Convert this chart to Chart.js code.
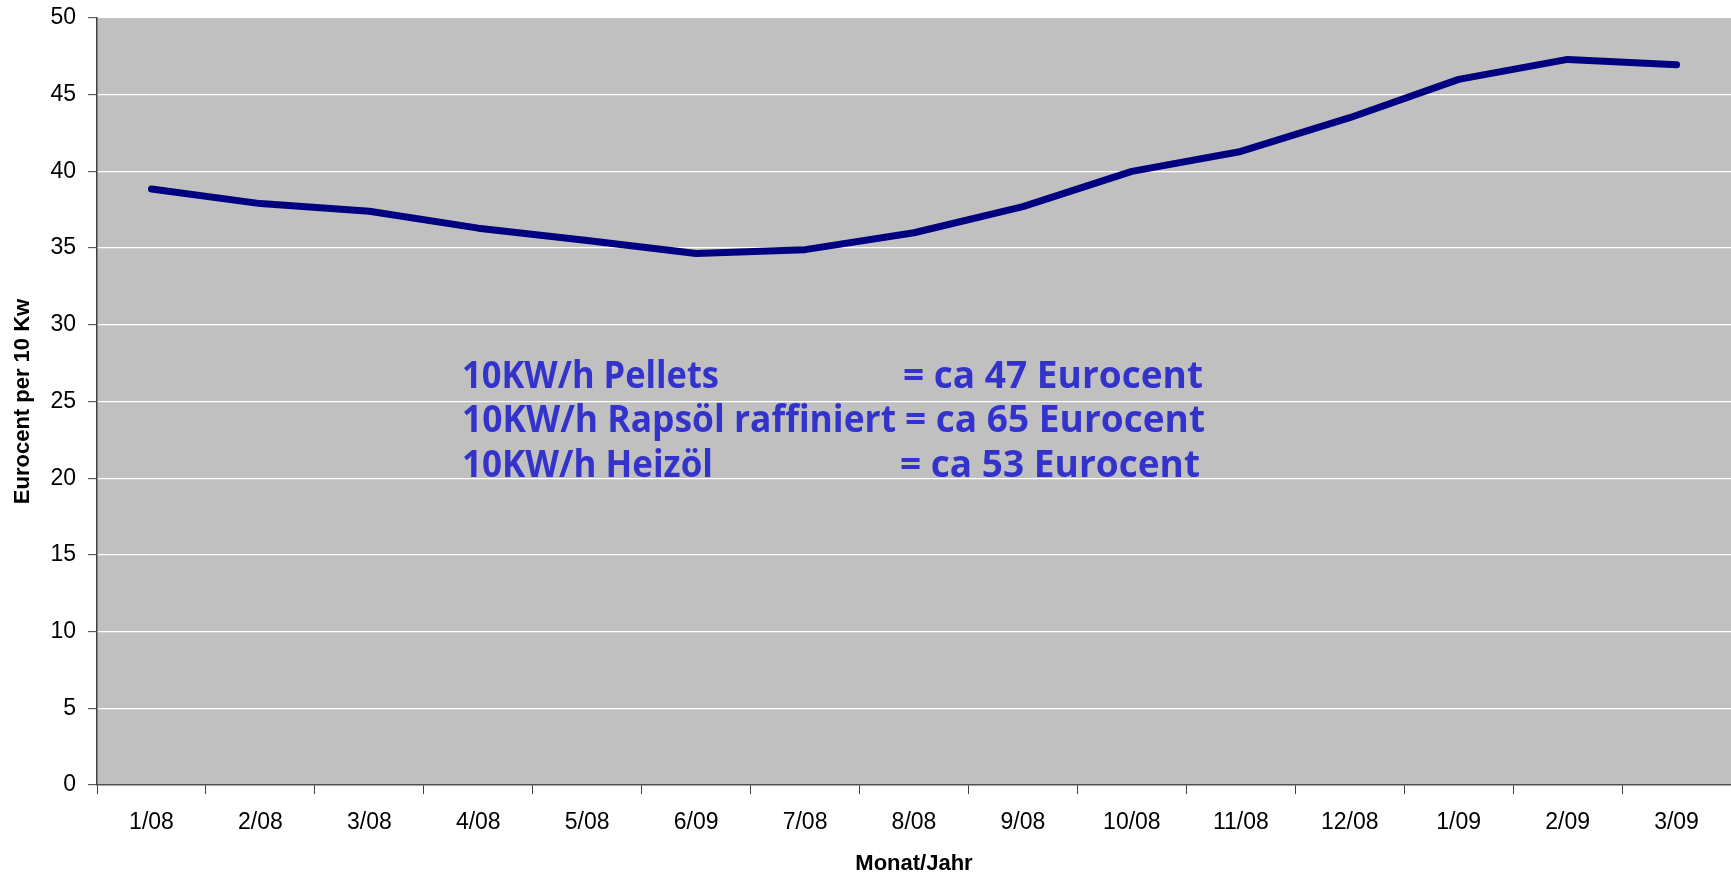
<!DOCTYPE html>
<html>
<head>
<meta charset="utf-8">
<script src="https://cdn.jsdelivr.net/npm/chart.js@4/dist/chart.umd.min.js"></script>
<style>
  html, body { margin: 0; padding: 0; background: #fff; }
  #wrap { width: 1731px; height: 882px; }
</style>
</head>
<body>
<div id="wrap"><canvas id="myChart"></canvas></div>
<script>
const months = ['1/08', '2/08', '3/08', '4/08', '5/08', '6/09', '7/08', '8/08', '9/08', '10/08', '11/08', '12/08', '1/09', '2/09', '3/09'];
const pelletPrice = [38.85, 37.9, 37.4, 36.3, 35.5, 34.65, 34.9, 36.0, 37.7, 40.0, 41.3, 43.5, 46.0, 47.3, 46.95];
const yTicks = [0, 5, 10, 15, 20, 25, 30, 35, 40, 45, 50];
const noteLeft = ['10KW/h Pellets', '10KW/h Rapsöl raffiniert', '10KW/h Heizöl'];
const noteRight = ['= ca 47 Eurocent', '= ca 65 Eurocent', '= ca 53 Eurocent'];

// grey plot background
const plotBg = {
    id: 'plotBg',
    beforeDraw(chart) {
        const { ctx, chartArea: a } = chart;
        ctx.save();
        ctx.fillStyle = '#c0c0c0';
        ctx.fillRect(a.left, a.top, a.right - a.left, a.bottom - a.top);
        ctx.restore();
    }
};

// blue text box in the middle of the plot
function fitText(ctx, text, x, y, w) {
    const m = ctx.measureText(text).width;
    ctx.save();
    ctx.translate(x, y);
    ctx.scale(w / m, 1);
    ctx.fillText(text, 0, 0);
    ctx.restore();
}

const notes = {
    id: 'notes',
    afterDatasetsDraw(chart) {
        const ctx = chart.ctx;
        const leftW = [257, 434, 251];
        const rightX = [903, 905, 900];
        const baseY = [388, 432, 477];
        ctx.save();
        ctx.fillStyle = '#3333cc';
        ctx.font = 'bold 37px "Open Sans", "Liberation Sans", sans-serif';
        ctx.textBaseline = 'alphabetic';
        for (let i = 0; i < noteLeft.length; i++) {
            fitText(ctx, noteLeft[i], 462, baseY[i], leftW[i]);
            fitText(ctx, noteRight[i], rightX[i], baseY[i], 300);
        }
        ctx.restore();
    }
};

const ctx = document.getElementById('myChart').getContext('2d');
new Chart(ctx, {
    type: 'line',
    data: {
        labels: months,
        datasets: [
            {
                label: 'Pellets',
                data: pelletPrice,
                borderColor: '#000080',
                borderWidth: 7,
                borderCapStyle: 'round',
                borderJoinStyle: 'round',
                pointRadius: 0,
                tension: 0,
                fill: false,
            },
        ],
    },
    options: {
        responsive: true,
        maintainAspectRatio: false,
        animation: false,
        layout: { padding: { top: 18, right: 0, left: 0, bottom: 0 } },
        plugins: {
            legend: { display: false },
            tooltip: { enabled: false },
        },
        scales: {
            x: {
                offset: true,
                grid: {
                    offset: true,
                    drawOnChartArea: false,
                    tickLength: 9,
                    tickColor: '#404040',
                    tickWidth: 1,
                },
                border: { color: '#505050', width: 1.5 },
                ticks: {
                    color: '#000',
                    padding: 15,
                    maxRotation: 0,
                    autoSkip: false,
                    font: { family: '"Liberation Sans", Arial, sans-serif', size: 23 },
                },
                title: {
                    display: true,
                    text: 'Monat/Jahr',
                    color: '#000',
                    padding: { top: 0, bottom: 5 },
                    font: { family: '"Liberation Sans", Arial, sans-serif', size: 22, weight: 'bold' },
                },
                afterFit(scale) {
                    scale.height = 97;
                    scale.paddingLeft = 0;
                    scale.paddingRight = 0;
                },
            },
            y: {
                min: 0,
                max: 50,
                afterBuildTicks(scale) { scale.ticks = yTicks.map(v => ({ value: v })); },
                grid: {
                    color: c => (c.tick && c.tick.value > 0 && c.tick.value < 50) ? '#ffffff' : 'rgba(0,0,0,0)',
                    lineWidth: 1.3,
                    tickLength: 9,
                    tickColor: '#404040',
                    tickWidth: 1,
                },
                border: { color: '#404040', width: 1.5 },
                ticks: {
                    color: '#000',
                    padding: 12,
                    font: { family: '"Liberation Sans", Arial, sans-serif', size: 23 },
                },
                title: {
                    display: true,
                    text: 'Eurocent per 10 Kw',
                    color: '#000',
                    padding: { top: 10, bottom: 0 },
                    font: { family: '"Liberation Sans", Arial, sans-serif', size: 22, weight: 'bold' },
                },
                afterFit(scale) {
                    scale.width = 97;
                    scale.paddingTop = 0;
                    scale.paddingBottom = 0;
                },
            },
        },
    },
    plugins: [plotBg, notes],
});
</script>
</body>
</html>
